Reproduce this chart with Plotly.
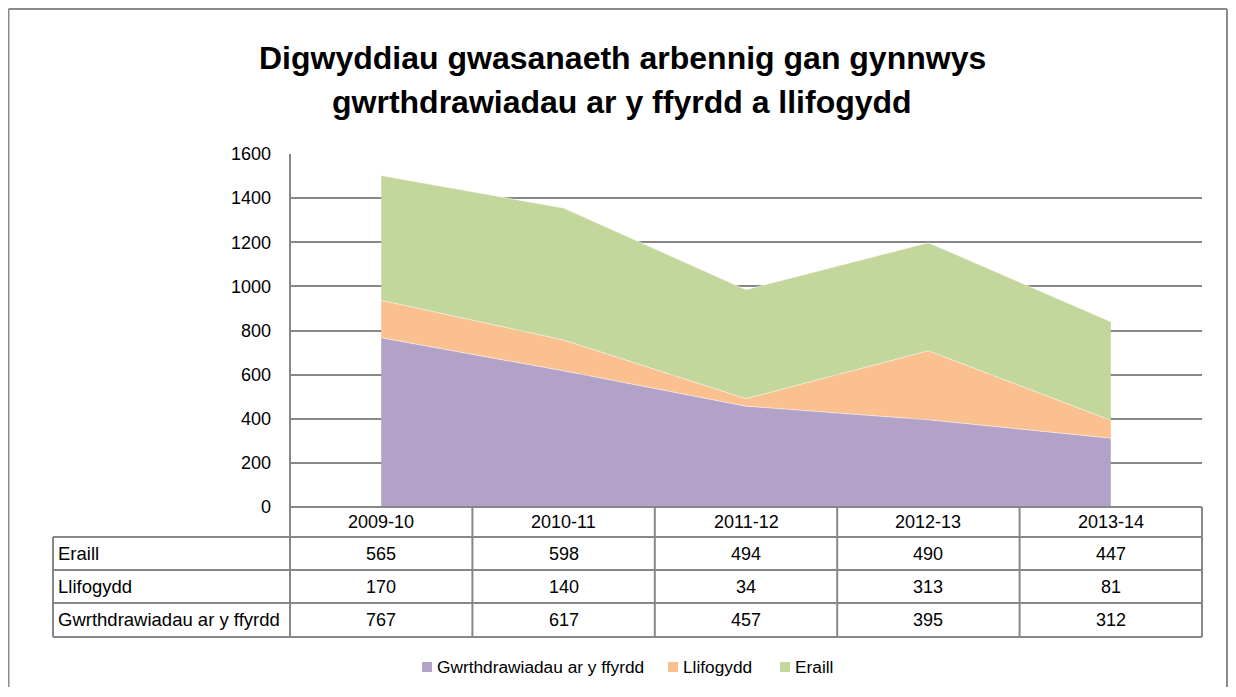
import plotly.graph_objects as go

categories = ["2009-10", "2010-11", "2011-12", "2012-13", "2013-14"]
series_names = ["Gwrthdrawiadau ar y ffyrdd", "Llifogydd", "Eraill"]
gwrthdrawiadau = [767, 617, 457, 395, 312]
llifogydd = [170, 140, 34, 313, 81]
eraill = [565, 598, 494, 490, 447]
colors = ["#B3A2C7", "#FAC090", "#C3D69B"]
y_ticks = [0, 200, 400, 600, 800, 1000, 1200, 1400, 1600]
title_lines = ["Digwyddiau gwasanaeth arbennig gan gynnwys", "gwrthdrawiadau ar y ffyrdd a llifogydd"]

# page body has an 8px margin; figure sized to fit inside the window
OFF = 8
W, H = 1220, 679
FONT = "Liberation Sans"
GRID = "#878787"


def px(x):
    return (x - OFF) / W


def py(y):
    return 1 - (y - OFF) / H


PL, PR, PT, PB = 290, 1202, 154, 507
series_vals = [gwrthdrawiadau, llifogydd, eraill]

fig = go.Figure()
for name, vals, col in zip(series_names, series_vals, colors):
    fig.add_trace(go.Scatter(
        x=categories, y=vals, name=name, mode="lines",
        stackgroup="one", line=dict(width=0.5, color="white"),
        fillcolor=col, hoverinfo="x+y+name", showlegend=False))

shapes = []
FR = dict(color="#8C8C8C", width=2)
# outer frame (left, top, right)
shapes.append(dict(type="line", xref="paper", yref="paper", x0=px(8.5), x1=px(8.5),
                   y0=0, y1=py(9), line=FR))
shapes.append(dict(type="line", xref="paper", yref="paper", x0=px(8.5), x1=px(1227),
                   y0=py(9), y1=py(9), line=FR))
shapes.append(dict(type="line", xref="paper", yref="paper", x0=px(1227), x1=px(1227),
                   y0=0, y1=py(9), line=FR))

# table rows
row_lines = [507, 537, 570, 603, 637]
LABEL_L = 53
for i, yy in enumerate(row_lines):
    x0 = PL if i == 0 else LABEL_L
    shapes.append(dict(type="line", xref="paper", yref="paper",
                       x0=px(x0), x1=px(PR), y0=py(yy), y1=py(yy),
                       line=dict(color=GRID, width=2)))
# column separators
ncol = len(categories)
cw = (PR - PL) / ncol
for k in range(ncol + 1):
    xx = PL + k * cw
    shapes.append(dict(type="line", xref="paper", yref="paper",
                       x0=px(xx), x1=px(xx), y0=py(PT if k == 0 else PB), y1=py(637),
                       line=dict(color=GRID, width=2)))
shapes.append(dict(type="line", xref="paper", yref="paper",
                   x0=px(LABEL_L), x1=px(LABEL_L), y0=py(537), y1=py(637),
                   line=dict(color=GRID, width=2)))

TF = dict(size=18, color="black", family=FONT)
annotations = []
# header categories
for c in categories:
    annotations.append(dict(x=c, y=py(522), xref="x", yref="paper", text=c,
                            xanchor="center", yanchor="middle", showarrow=False, font=TF))
# table rows: Eraill, Llifogydd, Gwrthdrawiadau
table_rows = [("Eraill", eraill), ("Llifogydd", llifogydd), ("Gwrthdrawiadau ar y ffyrdd", gwrthdrawiadau)]
for (label, vals), top in zip(table_rows, row_lines[1:4]):
    yc = py(top + 16.5)
    annotations.append(dict(x=px(56), y=yc, xref="paper", yref="paper", text=label,
                            xanchor="left", yanchor="middle", showarrow=False,
                            font=dict(size=18.5, color="black", family=FONT)))
    for c, v in zip(categories, vals):
        annotations.append(dict(x=c, y=yc, xref="x", yref="paper", text=str(v),
                                xanchor="center", yanchor="middle", showarrow=False, font=TF))
# title
for t, yy in zip(title_lines, [58, 102]):
    annotations.append(dict(x=px(622), y=py(yy), xref="paper", yref="paper", text="<b>" + t + "</b>",
                            xanchor="center", yanchor="middle", showarrow=False,
                            font=dict(size=32, color="black", family=FONT)))

# legend (built from series names and colours)
LF = dict(size=17.3, color="black", family=FONT)
leg_x = [422, 668, 780]
for name, col, lx in zip(series_names, colors, leg_x):
    shapes.append(dict(type="rect", xref="paper", yref="paper",
                       x0=px(lx), x1=px(lx + 10), y0=py(672), y1=py(662),
                       fillcolor=col, line=dict(width=0)))
    annotations.append(dict(x=px(lx + 13), y=py(667), xref="paper", yref="paper", text=name,
                            xanchor="left", yanchor="middle", showarrow=False, font=LF))

fig.update_layout(
    width=W, height=H, margin=dict(l=0, r=0, t=0, b=0, pad=0, autoexpand=False),
    paper_bgcolor="white", plot_bgcolor="white",
    showlegend=False,
    xaxis=dict(domain=[px(PL), px(PR)], range=[-0.5, 4.5], showticklabels=False,
               showgrid=False, zeroline=False, showline=False, type="category",
               categoryorder="array", categoryarray=categories, automargin=False),
    yaxis=dict(domain=[py(PB), py(PT)], range=[0, 1600], tickvals=y_ticks,
               showgrid=True, gridcolor=GRID, gridwidth=2, zeroline=False,
               showline=False, ticks="", ticklabelstandoff=18, automargin=False,
               tickfont=dict(size=18, color="black", family=FONT)),
    shapes=shapes, annotations=annotations,
)

fig.write_html("out.html")
